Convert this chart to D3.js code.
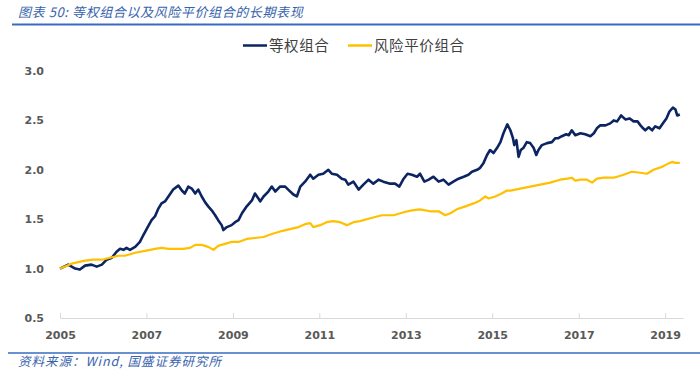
<!DOCTYPE html>
<html>
<head>
<meta charset="utf-8">
<script src="https://cdn.jsdelivr.net/npm/d3@7"></script>
<style>
  html, body { margin: 0; padding: 0; background: #fff; }
  svg { display: block; }
</style>
</head>
<body>
<div id="chart_div"></div>
<script>
// Series names and tick labels
const seriesNames = ["等权组合", "风险平价组合"];
const xTicks = [2005, 2007, 2009, 2011, 2013, 2015, 2017, 2019];
const yTicks = [0.5, 1.0, 1.5, 2.0, 2.5, 3.0];

// 等权组合 (decimal year, value)
const eqYears = [
  2005.00, 2005.19, 2005.35, 2005.46, 2005.58, 2005.73, 2005.85, 2005.97,
  2006.08, 2006.20, 2006.31, 2006.39, 2006.47, 2006.54, 2006.62, 2006.74, 2006.85, 2006.93,
  2007.03, 2007.12, 2007.20, 2007.28, 2007.35, 2007.43, 2007.51, 2007.62, 2007.74, 2007.82, 2007.89, 2007.97,
  2008.05, 2008.13, 2008.20, 2008.28, 2008.36, 2008.43, 2008.51, 2008.59, 2008.66, 2008.74, 2008.78, 2008.86, 2008.97,
  2009.05, 2009.13, 2009.21, 2009.32, 2009.44, 2009.51, 2009.59, 2009.63, 2009.71, 2009.82, 2009.90, 2009.98,
  2010.09, 2010.21, 2010.28, 2010.40, 2010.48, 2010.56, 2010.67, 2010.79, 2010.86, 2010.98,
  2011.09, 2011.21, 2011.29, 2011.41, 2011.52, 2011.60, 2011.67, 2011.79, 2011.91,
  2012.02, 2012.14, 2012.25, 2012.37, 2012.48, 2012.64, 2012.75, 2012.85, 2012.95,
  2013.04, 2013.14, 2013.26, 2013.33, 2013.43, 2013.53, 2013.64, 2013.76, 2013.87, 2013.99,
  2014.10, 2014.22, 2014.34, 2014.45, 2014.53, 2014.65, 2014.72, 2014.80, 2014.88, 2014.95,
  2015.03, 2015.11, 2015.19, 2015.26, 2015.35, 2015.42, 2015.48, 2015.51, 2015.56, 2015.61, 2015.66, 2015.72, 2015.80, 2015.88, 2015.96,
  2016.02, 2016.07, 2016.15, 2016.27, 2016.38, 2016.46, 2016.53, 2016.61, 2016.71, 2016.77, 2016.84, 2016.92,
  2017.04, 2017.15, 2017.27, 2017.35, 2017.42, 2017.50, 2017.62, 2017.73, 2017.81, 2017.89, 2017.98,
  2018.08, 2018.18, 2018.27, 2018.36, 2018.43, 2018.49, 2018.54, 2018.62, 2018.70, 2018.77, 2018.87, 2018.95,
  2019.03, 2019.10, 2019.18, 2019.24, 2019.28, 2019.34
];
const eqValues = [
  1.00, 1.04, 1.00, 0.99, 1.03, 1.04, 1.02, 1.04,
  1.09, 1.11, 1.17, 1.20, 1.19, 1.21, 1.19, 1.22, 1.27, 1.34,
  1.42, 1.49, 1.53, 1.61, 1.66, 1.68, 1.73, 1.80, 1.84, 1.79, 1.76, 1.83,
  1.81, 1.76, 1.80, 1.73, 1.67, 1.63, 1.59, 1.54, 1.49, 1.44, 1.39, 1.42, 1.44,
  1.47, 1.49, 1.56, 1.63, 1.69, 1.76, 1.71, 1.68, 1.73, 1.78, 1.83, 1.78,
  1.83, 1.83, 1.80, 1.75, 1.73, 1.83, 1.88, 1.95, 1.91, 1.95,
  1.96, 2.00, 1.96, 1.95, 1.91, 1.90, 1.85, 1.88, 1.80,
  1.85, 1.90, 1.86, 1.90, 1.88, 1.86, 1.86, 1.83, 1.91,
  1.96, 1.95, 1.93, 1.96, 1.88, 1.90, 1.93, 1.88, 1.90, 1.85,
  1.88, 1.91, 1.93, 1.95, 1.98, 2.00, 2.02, 2.07, 2.15, 2.20,
  2.17, 2.22, 2.28, 2.37, 2.46, 2.40, 2.32, 2.25, 2.30, 2.13, 2.20, 2.22, 2.28, 2.27, 2.22,
  2.15, 2.20, 2.25, 2.27, 2.28, 2.32, 2.32, 2.34, 2.36, 2.35, 2.40, 2.35,
  2.37, 2.36, 2.34, 2.37, 2.42, 2.45, 2.45, 2.47, 2.50, 2.49, 2.55,
  2.51, 2.52, 2.49, 2.49, 2.45, 2.42, 2.40, 2.43, 2.40, 2.44, 2.42, 2.47,
  2.52, 2.59, 2.63, 2.61, 2.55, 2.56
];

// 风险平价组合 (decimal year, value)
const rpYears = [
  2005.00, 2005.27, 2005.58, 2005.77, 2005.97,
  2006.16, 2006.35, 2006.50, 2006.74, 2006.97,
  2007.20, 2007.35, 2007.51, 2007.66, 2007.85,
  2008.01, 2008.13, 2008.28, 2008.43, 2008.55, 2008.66, 2008.82, 2008.97,
  2009.13, 2009.32, 2009.51, 2009.71, 2009.90,
  2010.13, 2010.32, 2010.52, 2010.67, 2010.79, 2010.86,
  2011.02, 2011.17, 2011.33, 2011.48, 2011.64, 2011.79, 2011.94,
  2012.18, 2012.45, 2012.72, 2012.95,
  2013.14, 2013.33, 2013.56, 2013.76, 2013.91,
  2014.03, 2014.18, 2014.38, 2014.57, 2014.72, 2014.84, 2014.91,
  2015.07, 2015.22, 2015.34, 2015.42, 2015.65, 2015.88,
  2016.11, 2016.34, 2016.57, 2016.74, 2016.84, 2016.92,
  2017.04, 2017.19, 2017.31, 2017.42, 2017.58, 2017.81,
  2018.04, 2018.23, 2018.43, 2018.58, 2018.73, 2018.93,
  2019.06, 2019.16, 2019.24, 2019.34
];
const rpValues = [
  1.00, 1.05, 1.08, 1.09, 1.09,
  1.11, 1.13, 1.13, 1.16, 1.18,
  1.20, 1.21, 1.20, 1.20, 1.20,
  1.21, 1.24, 1.24, 1.22, 1.19, 1.23, 1.25, 1.27,
  1.27, 1.30, 1.31, 1.32, 1.35,
  1.38, 1.40, 1.42, 1.45, 1.46, 1.42,
  1.44, 1.47, 1.48, 1.47, 1.44, 1.47, 1.48,
  1.51, 1.54, 1.54, 1.57,
  1.59, 1.60, 1.58, 1.58, 1.54,
  1.56, 1.60, 1.63, 1.66, 1.69, 1.73, 1.71,
  1.73, 1.76, 1.79, 1.79, 1.81, 1.83,
  1.85, 1.87, 1.90, 1.91, 1.92, 1.89,
  1.90, 1.90, 1.87, 1.91, 1.92, 1.92,
  1.95, 1.98, 1.97, 1.96, 2.00, 2.03,
  2.06, 2.08, 2.07, 2.07
];

const colors = ["#0c2461", "#ffc000"];

// decimal year -> Date
function toDate(y) {
  const yr = Math.floor(y);
  const start = new Date(yr, 0, 1), end = new Date(yr + 1, 0, 1);
  return new Date(+start + (y - yr) * (end - start));
}

const width = 700;
const height = 371;

const svg = d3.select("#chart_div").append("svg")
  .attr("width", width)
  .attr("height", height)
  .attr("viewBox", [0, 0, width, height]);

// Title and rule
svg.append("text")
  .attr("x", 18)
  .attr("y", 17)
  .attr("fill", "#3763ad")
  .attr("font-family", "'Noto Sans CJK SC', sans-serif")
  .attr("font-size", 13)
  .attr("font-style", "italic")
  .attr("letter-spacing", 0.6)
  .text("图表 50:  等权组合以及风险平价组合的长期表现");

svg.append("line")
  .attr("x1", 12).attr("x2", 700)
  .attr("y1", 24.5).attr("y2", 24.5)
  .attr("stroke", "#3a6bc2")
  .attr("stroke-width", 2);

// Scales
const x = d3.scaleTime()
  .domain([new Date(2005, 0, 1), new Date(2019, 5, 1)])
  .range([60, 683]);

const y = d3.scaleLinear()
  .domain([0.5, 3.0])
  .range([318, 71]);

// X axis
const xAxis = svg.append("g")
  .attr("transform", `translate(0,${y(0.5)})`)
  .call(d3.axisBottom(x)
    .tickValues(xTicks.map(d => new Date(d, 0, 1)))
    .tickFormat(d3.timeFormat("%Y"))
    .tickSizeInner(-5)
    .tickSizeOuter(0)
    .tickPadding(13));

xAxis.select(".domain").attr("stroke", "#d9d9d9");
xAxis.selectAll(".tick line").attr("stroke", "#d9d9d9");
xAxis.selectAll(".tick text")
  .attr("fill", "#595959")
  .attr("font-family", "'DejaVu Sans', sans-serif")
  .attr("font-weight", "bold")
  .attr("font-size", 11);

// Y axis
const yAxis = svg.append("g")
  .attr("transform", "translate(44,0)")
  .call(d3.axisLeft(y)
    .tickValues(yTicks)
    .tickFormat(d3.format(".1f"))
    .tickSize(0)
    .tickPadding(0));

yAxis.select(".domain").remove();
yAxis.selectAll(".tick text")
  .attr("fill", "#595959")
  .attr("font-family", "'DejaVu Sans', sans-serif")
  .attr("font-weight", "bold")
  .attr("font-size", 11);

// Lines
const line = d3.line()
  .x(d => x(toDate(d[0])))
  .y(d => y(d[1]));

const series = [
  d3.zip(eqYears, eqValues),
  d3.zip(rpYears, rpValues)
];

svg.append("path")
  .datum(series[0])
  .attr("fill", "none")
  .attr("stroke", colors[0])
  .attr("stroke-width", 2.6)
  .attr("stroke-linejoin", "round")
  .attr("d", line);

svg.append("path")
  .datum(series[1])
  .attr("fill", "none")
  .attr("stroke", colors[1])
  .attr("stroke-width", 2.2)
  .attr("stroke-linejoin", "round")
  .attr("d", line);

// Legend
const legendX = [243, 348];
const legend = svg.append("g");
seriesNames.forEach((name, i) => {
  legend.append("line")
    .attr("x1", legendX[i]).attr("x2", legendX[i] + 24)
    .attr("y1", 45.5).attr("y2", 45.5)
    .attr("stroke", colors[i])
    .attr("stroke-width", 2.5);
  legend.append("text")
    .attr("x", legendX[i] + 26)
    .attr("y", 51)
    .attr("fill", "#404040")
    .attr("font-family", "'Noto Sans CJK SC', sans-serif")
    .attr("font-size", 14.5)
    .attr("letter-spacing", 0.6)
    .text(name);
});

// Footer
svg.append("line")
  .attr("x1", 8).attr("x2", 700)
  .attr("y1", 353).attr("y2", 353)
  .attr("stroke", "#3a6bc2")
  .attr("stroke-width", 1.5);

svg.append("text")
  .attr("x", 18)
  .attr("y", 366)
  .attr("fill", "#3763ad")
  .attr("font-family", "'Noto Sans CJK SC', sans-serif")
  .attr("font-size", 12.5)
  .attr("font-style", "italic")
  .attr("letter-spacing", 1)
  .text("资料来源：Wind, 国盛证券研究所");
</script>
</body>
</html>
